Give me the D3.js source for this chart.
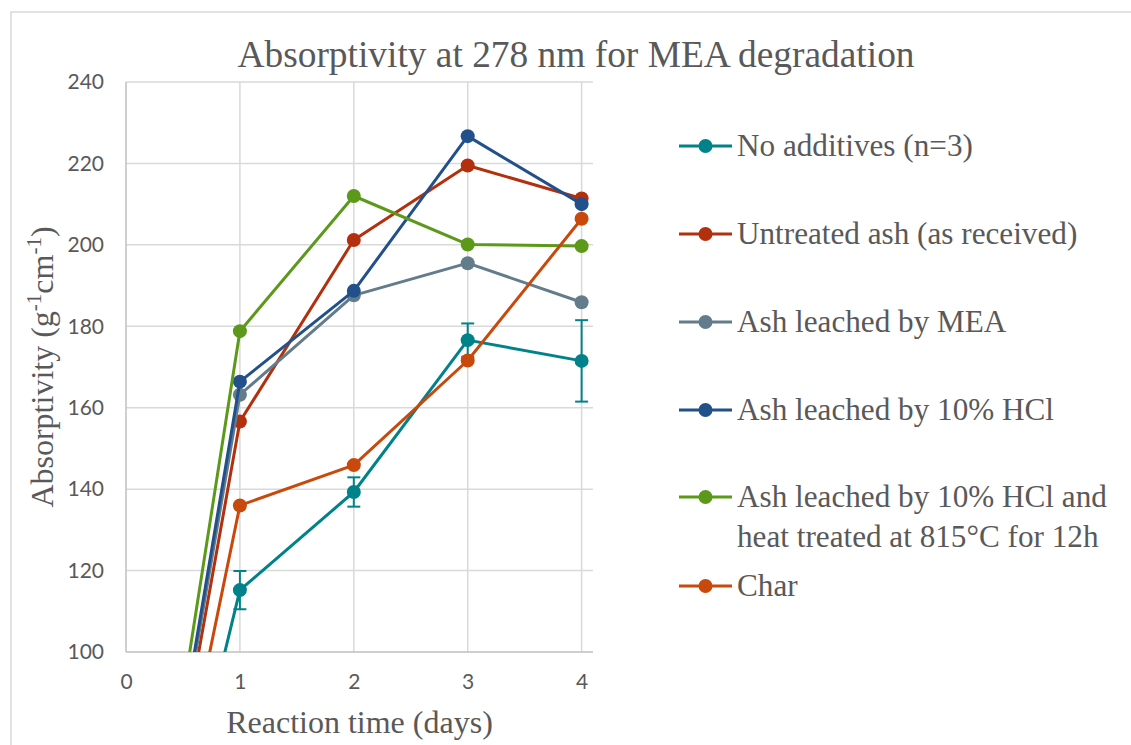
<!DOCTYPE html>
<html>
<head>
<meta charset="utf-8">
<script src="https://cdn.jsdelivr.net/npm/d3@7"></script>
<style>
  body { margin: 0; background: #fff; }
</style>
</head>
<body>
<div id="chart"></div>
<script>
// data
var days = [0, 1, 2, 3, 4];
var xTicks = [0, 1, 2, 3, 4];
var yTicks = [100, 120, 140, 160, 180, 200, 220, 240];

var noAdditives = [0, 115.2, 139.3, 176.6, 171.5];
var noAdditivesErr = [0, 4.7, 3.6, 4.1, 10];
var untreatedAsh = [0, 156.6, 201.2, 219.5, 211.4];
var ashMEA = [0, 163.2, 187.6, 195.5, 185.9];
var ashHCl = [0, 166.4, 188.7, 226.7, 210.0];
var ashHClHeat = [0, 178.8, 212.0, 200.1, 199.7];
var charValues = [0, 136.0, 145.9, 171.6, 206.4];

var seriesNames = [
  ["No additives (n=3)"],
  ["Untreated ash (as received)"],
  ["Ash leached by MEA"],
  ["Ash leached by 10% HCl"],
  ["Ash leached by 10% HCl and", "heat treated at 815\u00B0C for 12h"],
  ["Char"]
];
var seriesValues = [noAdditives, untreatedAsh, ashMEA, ashHCl, ashHClHeat, charValues];
var seriesColors = ["#00828a", "#b3300f", "#637c8b", "#21508b", "#5c991a", "#c9480b"];

var serifFont = "Liberation Serif";
var sansFont = "Lato";
var textColor = "#595959";

var svgWidth = 1131;
var svgHeight = 745;

var plot = { left: 126, right: 593, top: 82, bottom: 652 };

var svg = d3.select("#chart")
  .append("svg")
  .attr("width", svgWidth)
  .attr("height", svgHeight);

// outer chart border
svg.append("rect")
  .attr("x", 11)
  .attr("y", 12)
  .attr("width", svgWidth + 20)
  .attr("height", svgHeight + 20)
  .attr("fill", "none")
  .attr("stroke", "#d9d9d9")
  .attr("stroke-width", 1.5);

var xScale = d3.scaleLinear().domain([0, 4.1]).range([plot.left, plot.right]);
var yScale = d3.scaleLinear().domain([100, 240]).range([plot.bottom, plot.top]);

// gridlines
var gridGroup = svg.append("g");
gridGroup.selectAll(".hgrid")
  .data(yTicks.filter(d => d > 100))
  .enter()
  .append("line")
  .attr("x1", plot.left)
  .attr("x2", plot.right)
  .attr("y1", d => yScale(d))
  .attr("y2", d => yScale(d))
  .attr("stroke", "#d9d9d9")
  .attr("stroke-width", 1.5);

gridGroup.selectAll(".vgrid")
  .data(xTicks.filter(d => d > 0))
  .enter()
  .append("line")
  .attr("x1", d => xScale(d))
  .attr("x2", d => xScale(d))
  .attr("y1", plot.top)
  .attr("y2", plot.bottom)
  .attr("stroke", "#d9d9d9")
  .attr("stroke-width", 1.5);

// axes
var leftAxis = d3.axisLeft(yScale).tickValues(yTicks).tickFormat(d3.format("d")).tickSize(0).tickPadding(22);
var bottomAxis = d3.axisBottom(xScale).tickValues(xTicks).tickFormat(d3.format("d")).tickSize(0).tickPadding(22);

var yAxisG = svg.append("g")
  .attr("transform", `translate(${plot.left}, 0)`)
  .call(leftAxis);
var xAxisG = svg.append("g")
  .attr("transform", `translate(0, ${plot.bottom})`)
  .call(bottomAxis);

[yAxisG, xAxisG].forEach(function(g) {
  g.attr("font-family", sansFont).attr("font-size", 21);
  g.select(".domain").attr("stroke", "#bfbfbf").attr("stroke-width", 1.5);
  g.selectAll("text").attr("fill", textColor);
});
xAxisG.select(".domain").attr("d", `M${plot.left},0H${plot.right}`);
yAxisG.select(".domain").attr("d", `M0,${plot.bottom}V${plot.top}`);

// clip the series to the plot area
svg.append("clipPath")
  .attr("id", "plotClip")
  .append("rect")
  .attr("x", plot.left)
  .attr("y", plot.top - 10)
  .attr("width", plot.right - plot.left + 10)
  .attr("height", plot.bottom - plot.top + 10);

var seriesGroup = svg.append("g").attr("clip-path", "url(#plotClip)");

var line = d3.line()
  .x((d, i) => xScale(days[i]))
  .y(d => yScale(d));

seriesValues.forEach(function(values, s) {
  var g = seriesGroup.append("g");
  g.append("path")
    .datum(values)
    .attr("d", line)
    .attr("fill", "none")
    .attr("stroke", seriesColors[s])
    .attr("stroke-width", 3)
    .attr("stroke-linejoin", "round");

  // error bars only for the first series
  if (s === 0) {
    var errG = g.append("g");
    values.forEach(function(v, i) {
      if (noAdditivesErr[i] === 0) return;
      var x = xScale(days[i]);
      var y1 = yScale(v + noAdditivesErr[i]);
      var y2 = yScale(v - noAdditivesErr[i]);
      errG.append("line").attr("x1", x).attr("x2", x).attr("y1", y1).attr("y2", y2)
        .attr("stroke", seriesColors[s]).attr("stroke-width", 2);
      errG.append("line").attr("x1", x - 6.5).attr("x2", x + 6.5).attr("y1", y1).attr("y2", y1)
        .attr("stroke", seriesColors[s]).attr("stroke-width", 2);
      errG.append("line").attr("x1", x - 6.5).attr("x2", x + 6.5).attr("y1", y2).attr("y2", y2)
        .attr("stroke", seriesColors[s]).attr("stroke-width", 2);
    });
  }

  g.selectAll("circle")
    .data(values.filter((d, i) => days[i] > 0))
    .enter()
    .append("circle")
    .attr("cx", (d, i) => xScale(days[i + 1]))
    .attr("cy", d => yScale(d))
    .attr("r", 7)
    .attr("fill", seriesColors[s]);
});

// title
svg.append("text")
  .attr("x", 576)
  .attr("y", 67)
  .attr("text-anchor", "middle")
  .attr("font-family", serifFont)
  .attr("font-size", 37.4)
  .attr("fill", textColor)
  .text("Absorptivity at 278 nm for MEA degradation");

// axis titles
svg.append("text")
  .attr("x", (plot.left + plot.right) / 2)
  .attr("y", 733)
  .attr("text-anchor", "middle")
  .attr("font-family", serifFont)
  .attr("font-size", 32)
  .attr("fill", textColor)
  .text("Reaction time (days)");

var yTitle = svg.append("text")
  .attr("transform", `translate(53, ${(plot.top + plot.bottom) / 2}) rotate(-90)`)
  .attr("text-anchor", "middle")
  .attr("font-family", serifFont)
  .attr("font-size", 32)
  .attr("fill", textColor);
yTitle.append("tspan").text("Absorptivity (g");
yTitle.append("tspan").attr("font-size", 21).attr("baseline-shift", "super").text("-1");
yTitle.append("tspan").text("cm");
yTitle.append("tspan").attr("font-size", 21).attr("baseline-shift", "super").text("-1");
yTitle.append("tspan").text(")");

// legend
var legendRowY = [146, 234, 322, 410, 497, 586];
var legend = svg.append("g");
seriesNames.forEach(function(name, s) {
  var y = legendRowY[s];
  legend.append("line")
    .attr("x1", 679).attr("x2", 732)
    .attr("y1", y).attr("y2", y)
    .attr("stroke", seriesColors[s])
    .attr("stroke-width", 3);
  legend.append("circle")
    .attr("cx", 705.5).attr("cy", y).attr("r", 7)
    .attr("fill", seriesColors[s]);
  name.forEach(function(txt, k) {
    legend.append("text")
      .attr("x", 737)
      .attr("y", y + k * 40)
      .attr("dy", "0.33em")
      .attr("font-family", serifFont)
      .attr("font-size", 31.2)
      .attr("fill", textColor)
      .text(txt);
  });
});
</script>
</body>
</html>
